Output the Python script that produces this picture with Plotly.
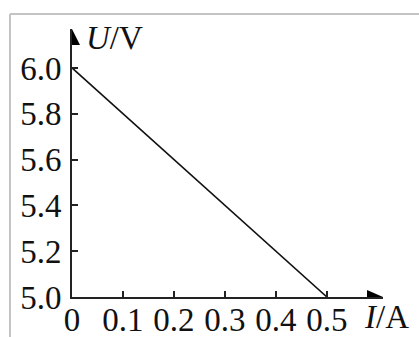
import plotly.graph_objects as go

current = [0.0, 0.5]
voltage = [6.0, 5.0]
x_ticks = [0, 0.1, 0.2, 0.3, 0.4, 0.5]
x_labels = ["0", "0.1", "0.2", "0.3", "0.4", "0.5"]
y_ticks = [5.0, 5.2, 5.4, 5.6, 5.8, 6.0]
y_labels = ["5.0", "5.2", "5.4", "5.6", "5.8", "6.0"]

XMAX = 0.61
YMIN, YMAX = 5.0, 6.17
FONT = "Liberation Serif"
AX = "#222222"
FS = 33

fig = go.Figure()
fig.add_trace(go.Scatter(x=current, y=voltage, mode="lines",
                         line=dict(color="#111111", width=1.6),
                         hoverinfo="skip", showlegend=False))

fig.update_layout(
    width=419, height=337,
    margin=dict(l=72, r=36, t=29, b=40, autoexpand=False),
    paper_bgcolor="white", plot_bgcolor="white",
    font=dict(family=FONT, size=FS, color="#111111"),
    xaxis=dict(range=[0, XMAX], showgrid=False, zeroline=False, automargin=False,
               showline=True, linecolor=AX, linewidth=2,
               ticks="inside", ticklen=6, tickwidth=1.5, tickcolor=AX,
               tickvals=x_ticks, ticktext=x_labels, ticklabelstandoff=-8),
    yaxis=dict(range=[YMIN, YMAX], showgrid=False, zeroline=False, automargin=False,
               showline=True, linecolor=AX, linewidth=2,
               ticks="inside", ticklen=6, tickwidth=1.5, tickcolor=AX,
               tickvals=y_ticks, ticktext=y_labels, ticklabelstandoff=2),
)

# arrow heads
fig.add_shape(type="path", xref="x", yref="y", xsizemode="pixel", ysizemode="pixel",
              xanchor=0, yanchor=YMAX, path="M0,0 L-8,-16 L8,-16 Z",
              fillcolor="#000000", line=dict(width=0))
fig.add_shape(type="path", xref="x", yref="y", xsizemode="pixel", ysizemode="pixel",
              xanchor=XMAX, yanchor=YMIN, path="M0,0 L-16,7 L-16,-7 Z",
              fillcolor="#000000", line=dict(width=0))

# frame lines (gray border)
fig.add_shape(type="line", xref="paper", yref="paper",
              x0=(10-72)/311, x1=(10-72)/311, y0=(297-14)/268, y1=(297-345)/268,
              line=dict(color="#c4c4c4", width=2))
fig.add_shape(type="line", xref="paper", yref="paper",
              x0=(10-72)/311, x1=(430-72)/311, y0=(297-14)/268, y1=(297-14)/268,
              line=dict(color="#c4c4c4", width=2))

fig.add_annotation(text="<i>U</i>/V", xref="paper", yref="paper",
                   x=(84-72)/311, y=(297-18)/268, xanchor="left", yanchor="top",
                   showarrow=False, font=dict(family=FONT, size=FS))
fig.add_annotation(text="<i>I</i>/A", xref="paper", yref="paper",
                   x=(362-72)/311, y=(297-337)/268, xanchor="left", yanchor="bottom",
                   showarrow=False, font=dict(family=FONT, size=FS))

fig.write_html("out.html", config={"displayModeBar": False},
               post_script="document.body.style.margin='0';document.body.style.overflow='hidden';")
